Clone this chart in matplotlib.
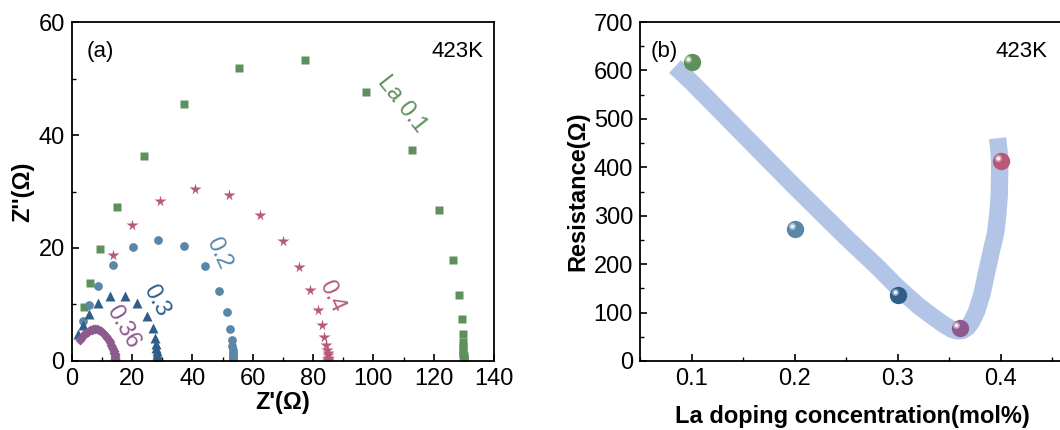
import numpy as np
import matplotlib.pyplot as plt
from matplotlib.ticker import MultipleLocator

plt.rcParams['font.family'] = ['Liberation Sans', 'DejaVu Sans']
plt.rcParams['font.size'] = 16

# ---- panel (a): Nyquist data, Z' and Z'' in ohm ----
x01 = [4.2, 6.1, 9.3, 14.9, 23.9, 37.1, 55.6, 77.2, 97.6, 112.8, 121.9, 126.4, 128.5, 129.4, 129.7,
       129.8, 129.8, 129.8, 129.8, 129.8, 129.9, 129.9, 129.9, 129.9, 129.9]
y01 = [9.5, 13.8, 19.8, 27.3, 36.3, 45.4, 51.9, 53.2, 47.6, 37.4, 26.7, 17.9, 11.6, 7.4, 4.8,
       3.3, 2.6, 2.0, 1.5, 1.1, 0.8, 0.5, 0.3, 0.15, 0.05]
x02 = [3.8, 5.7, 8.8, 13.6, 20.2, 28.6, 37.1, 44.2, 49.0, 51.5, 52.6, 53.1,
       53.3, 53.4, 53.4, 53.4, 53.5, 53.5, 53.5, 53.5]
y02 = [7.1, 9.9, 13.3, 17.0, 20.1, 21.5, 20.4, 16.9, 12.4, 8.6, 5.7, 3.7,
       2.7, 2.0, 1.5, 1.1, 0.7, 0.4, 0.2, 0.05]
x03 = [2.2, 3.6, 5.9, 8.8, 12.8, 17.6, 21.5, 24.9, 26.9, 27.7,
       28.0, 28.1, 28.2, 28.2, 28.3, 28.3, 28.3, 28.3]
y03 = [4.8, 6.4, 8.3, 10.2, 11.5, 11.5, 10.2, 8.0, 5.8, 4.0,
       3.0, 2.3, 1.7, 1.2, 0.8, 0.5, 0.2, 0.05]
x036 = [2.8, 3.2, 3.7, 4.2, 4.8, 5.4, 6.0, 6.6, 7.2, 7.8, 8.4, 9.0, 9.6, 10.2, 10.8,
        11.3, 11.8, 12.3, 12.7, 13.1, 13.4, 13.7, 13.9, 14.1, 14.2, 14.3, 14.4, 14.5, 14.5, 14.6]
y036 = [3.8, 4.1, 4.4, 4.7, 5.0, 5.2, 5.4, 5.5, 5.6, 5.6, 5.6, 5.5, 5.3, 5.1, 4.8,
        4.5, 4.1, 3.7, 3.3, 2.9, 2.5, 2.1, 1.8, 1.5, 1.2, 0.9, 0.6, 0.4, 0.2, 0.05]
x04 = [13.6, 20.1, 29.4, 40.9, 52.3, 62.3, 69.9, 75.5, 79.0, 81.5, 83.0, 83.8, 84.3,
       84.6, 84.8, 84.9, 85.0, 85.0, 85.1, 85.1]
y04 = [18.7, 24.0, 28.4, 30.4, 29.4, 25.9, 21.2, 16.6, 12.5, 9.0, 6.3, 4.3, 2.8,
       2.0, 1.4, 1.0, 0.6, 0.35, 0.15, 0.05]

# ---- panel (b): resistance vs La content ----
la = [0.1, 0.2, 0.3, 0.36, 0.4]
res = [618, 273, 136, 68, 414]
# guide band drawn by hand in the original (centre line)
band_x = [0.084, 0.10, 0.15, 0.20, 0.25, 0.28, 0.30, 0.32, 0.335, 0.345, 0.352, 0.358, 0.363,
          0.368, 0.372, 0.377, 0.382, 0.387, 0.391, 0.395, 0.397, 0.3985, 0.399, 0.3985, 0.397]
band_y = [608, 576, 468, 360, 255, 195, 152, 114, 90, 75, 66, 62, 63,
          70, 82, 105, 140, 190, 228, 264, 300, 340, 401, 430, 460]

c_green = '#5e905c'
c_steel = '#5a87a8'
c_navy = '#2f5e8b'
c_purple = '#8d5a8e'
c_pink = '#b65a78'

fig = plt.figure(figsize=(10.6, 4.3), dpi=100)
ax1 = fig.add_axes([0.0676, 0.1605, 0.3985, 0.7883])
ax2 = fig.add_axes([0.6038, 0.1605, 0.4, 0.7883])

ax1.plot(x01, y01, 's', color=c_green, ms=5.8, mec='none')
ax1.plot(x02, y02, 'o', color=c_steel, ms=6.3, mec='none')
ax1.plot(x03, y03, '^', color=c_navy, ms=6.8, mec='none')
ax1.plot(x036, y036, 'D', color=c_purple, ms=5.2, mec='none')
ax1.plot(x04, y04, '*', color=c_pink, ms=8.5, mec='none')

ax1.text(109.5, 45.5, 'La 0.1', color=c_green, rotation=-52, ha='center', va='center', fontsize=17)
ax1.text(48.5, 19.0, '0.2', color=c_steel, rotation=-65, ha='center', va='center', fontsize=17)
ax1.text(28.0, 10.6, '0.3', color=c_navy, rotation=-62, ha='center', va='center', fontsize=17)
ax1.text(16.8, 6.0, '0.36', color=c_purple, rotation=-60, ha='center', va='center', fontsize=17)
ax1.text(86.0, 11.5, '0.4', color=c_pink, rotation=-65, ha='center', va='center', fontsize=17)

ax1.text(0.035, 0.945, '(a)', transform=ax1.transAxes, ha='left', va='top', fontsize=16)
ax1.text(0.975, 0.945, '423K', transform=ax1.transAxes, ha='right', va='top', fontsize=16)

ax1.set_xlim(0, 140)
ax1.set_ylim(0, 60)
ax1.xaxis.set_major_locator(MultipleLocator(20))
ax1.xaxis.set_minor_locator(MultipleLocator(10))
ax1.yaxis.set_major_locator(MultipleLocator(20))
ax1.yaxis.set_minor_locator(MultipleLocator(10))
ax1.set_xlabel("Z'(Ω)", fontweight='bold', fontsize=17, labelpad=1)
ax1.set_ylabel("Z''(Ω)", fontweight='bold', fontsize=17, labelpad=3)

ax2.plot(band_x, band_y, '-', color='#b2c5e7', lw=12.5, solid_capstyle='butt',
         solid_joinstyle='round', zorder=1)
cols = [c_green, c_steel, c_navy, c_purple, c_pink]
for xv, yv, c in zip(la, res, cols):
    ax2.plot(xv, yv, 'o', color=c, ms=12.5, mec='none', zorder=3)
    ax2.plot(xv - 0.003, yv + 6, 'o', color='white', ms=5, mec='none', alpha=0.45, zorder=4)
    ax2.plot(xv - 0.003, yv + 6, 'o', color='white', ms=2.5, mec='none', alpha=0.9, zorder=5)

ax2.text(0.025, 0.945, '(b)', transform=ax2.transAxes, ha='left', va='top', fontsize=16)
ax2.text(0.96, 0.945, '423K', transform=ax2.transAxes, ha='right', va='top', fontsize=16)

ax2.set_xlim(0.05, 0.4614)
ax2.set_ylim(0, 700)
ax2.xaxis.set_major_locator(MultipleLocator(0.1))
ax2.xaxis.set_minor_locator(MultipleLocator(0.05))
ax2.yaxis.set_major_locator(MultipleLocator(100))
ax2.yaxis.set_minor_locator(MultipleLocator(50))
ax2.set_xticks([0.1, 0.2, 0.3, 0.4])
ax2.set_xticklabels(['0.1', '0.2', '0.3', '0.4'])
ax2.set_xlabel('La doping concentration(mol%)', fontweight='bold', fontsize=17, labelpad=11)
ax2.set_ylabel('Resistance(Ω)', fontweight='bold', fontsize=17, labelpad=3)

for ax in (ax1, ax2):
    for s in ax.spines.values():
        s.set_linewidth(1.3)
    ax.tick_params(which='major', direction='in', length=5, width=1.2, labelsize=17, pad=5)
    ax.tick_params(which='minor', direction='in', length=3, width=1.0)

fig.savefig('out.png', dpi=100)
